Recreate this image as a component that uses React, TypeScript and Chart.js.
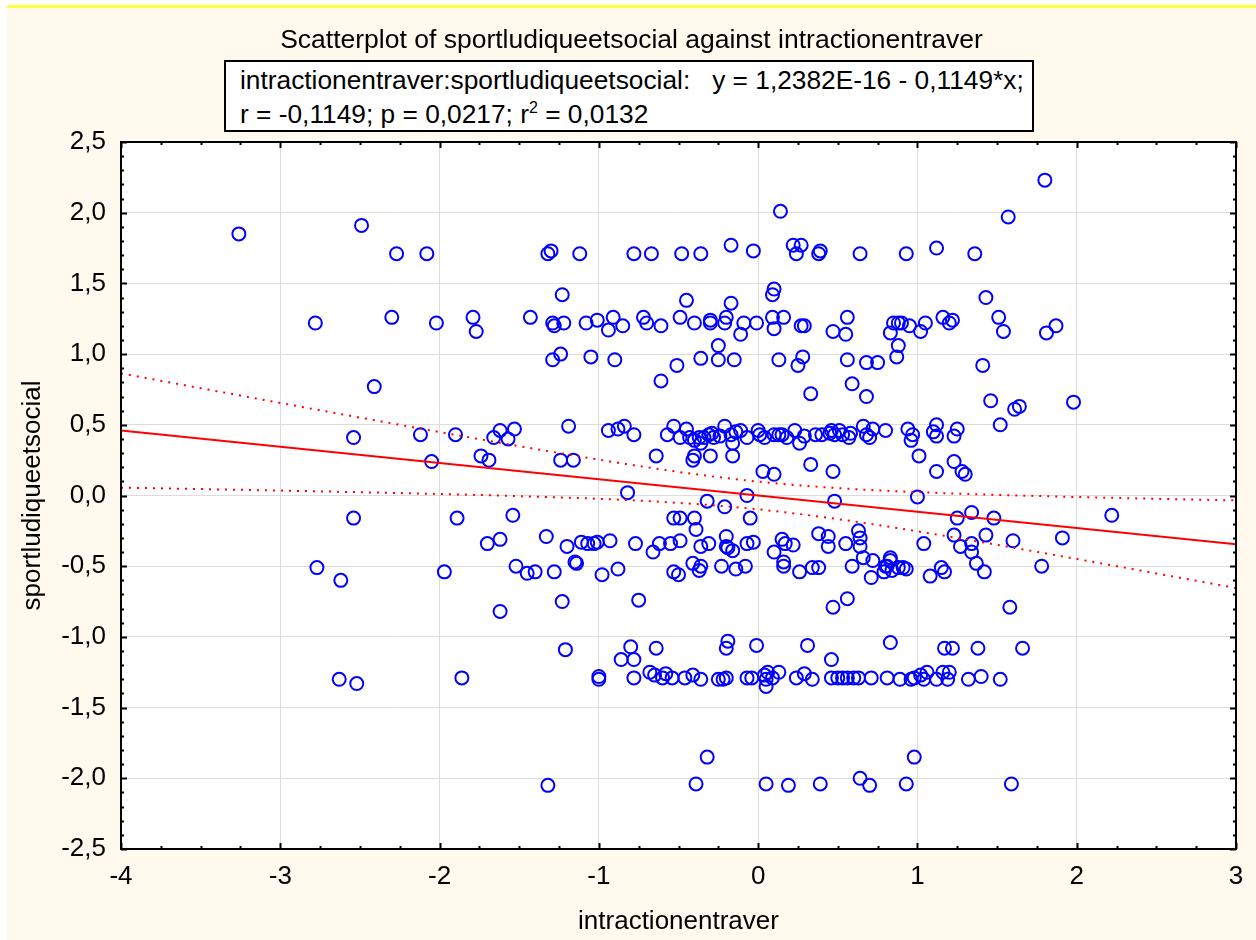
import React, { useEffect, useRef } from "react";
import { Chart, registerables } from "chart.js";

Chart.register(...registerables);

// ---------- data ----------
const xValues = [
  1.80, 0.14, 1.57, -3.26, -2.49,
  -2.27, -2.08, -1.32, -1.30, -1.12, -0.78, -0.67, -0.48, -0.36, -0.17, -0.03, 0.22, 0.24, 0.27, 0.38, 0.39, 0.64, 0.93, 1.12, 1.36,
  0.09, 0.10, -1.23, -0.45, -0.17, 1.43,
  -2.78, -2.30, -2.02, -1.79, -1.77, -1.43, -1.29, -1.28, -1.22, -1.08,
  -1.01, -0.94, -0.91, -0.85, -0.72, -0.70, -0.61, -0.49, -0.40, -0.30,
  -0.30, -0.20, -0.21, -0.11, -0.09, -0.01, 0.09, 0.10, 0.16, 0.27,
  0.29, 0.47, 0.55, 0.56, 0.83, 0.85, 0.88, 0.90, 0.95, 1.02,
  1.05, 1.16, 1.20, 1.22, 1.51, 1.54, 1.81, 1.87, 0.88,
  -1.29, -1.24, -1.05, -0.90, -0.51, -0.36, -0.25, -0.25, -0.15, 0.13, 0.25, 0.28, 0.56, 0.68, 0.75, 0.87, 1.41,
  -2.41, -0.61, 0.33, 0.59, 0.68, 1.46, 1.61, 1.64, 1.98,
  -2.54, -2.12, -1.90, -1.66, -1.62, -1.57, -1.53, -1.19, -0.94, -0.88,
  -0.84, -0.78, -0.57, -0.53, -0.49, -0.45, -0.43, -0.40, -0.37, -0.36,
  -0.34, -0.31, -0.29, -0.28, -0.24, -0.21, -0.17, -0.16, -0.14, -0.11,
  -0.07, 0.00, 0.01, 0.04, 0.10, 0.13, 0.15, 0.18, 0.23, 0.26,
  0.29, 0.36, 0.40, 0.45, 0.46, 0.48, 0.51, 0.53, 0.57, 0.58,
  0.66, 0.68, 0.70, 0.72, 0.80, 0.94, 0.96, 0.97, 1.10, 1.12,
  1.12, 1.23, 1.25, 1.52,
  -2.05, -1.74, -1.69, -1.24, -1.16, -0.64, -0.41, -0.40, -0.30, -0.16, 0.03, 0.10, 0.33, 0.47, 1.01, 1.12, 1.23, 1.28, 1.30,
  -0.82, -0.32, -0.21, -0.07, 0.48, 1.00, 2.22,
  -2.54, -1.89, -1.54, -0.53, -0.49, -0.40, -0.39, -0.05, 1.25, 1.34, 1.48,
  -1.70, -1.62, -1.33, -1.20, -1.11, -1.07, -1.03, -1.01, -0.93, -0.77,
  -0.66, -0.62, -0.55, -0.49, -0.36, -0.31, -0.20, -0.20, -0.19, -0.16,
  -0.07, -0.03, 0.10, 0.15, 0.17, 0.22, 0.38, 0.44, 0.44, 0.55,
  0.63, 0.64, 0.64, 0.66, 0.72, 0.83, 1.04, 1.23, 1.27, 1.34,
  1.34, 1.37, 1.42, 1.43, 1.60, 1.91,
  -2.77, -2.62, -1.97, -1.52, -1.45, -1.40, -1.28, -1.15, -1.14, -0.98,
  -0.88, -0.53, -0.50, -0.41, -0.36, -0.37, -0.23, -0.14, -0.08, 0.16,
  0.16, 0.26, 0.34, 0.38, 0.59, 0.71, 0.79, 0.81, 0.84, 0.88,
  0.83, 0.80, 0.91, 0.93, 1.08, 1.15, 1.17, 1.78,
  -1.62, -1.23, -0.75, 0.47, 0.56, 1.58,
  -1.21, -0.80, -0.64, -0.19, -0.20, -0.01, 0.31, 0.83, 1.17, 1.22, 1.38, 1.66, -0.86, -0.78, 0.46,
  -2.63, -2.52, -1.86, -1.00, -1.00, -0.78, -0.68, -0.65, -0.60, -0.58,
  -0.54, -0.46, -0.41, -0.36, -0.25, -0.22, -0.20, -0.07, -0.04, 0.04,
  0.05, 0.05, 0.06, 0.09, 0.13, 0.24, 0.29, 0.34, 0.46, 0.50,
  0.53, 0.56, 0.60, 0.63, 0.71, 0.81, 0.89, 0.96, 0.98, 1.02,
  1.04, 1.06, 1.12, 1.16, 1.19, 1.20, 1.32, 1.40, 1.52,
  -1.32, -0.39, -0.32, 0.05, 0.19, 0.39, 0.64, 0.70, 0.93, 0.98, 1.59,
];

const yValues = [
  2.23, 2.01, 1.97, 1.85, 1.91,
  1.71, 1.71, 1.71, 1.73, 1.71, 1.71, 1.71, 1.71, 1.71, 1.77, 1.73, 1.77, 1.71, 1.77, 1.71, 1.73, 1.71, 1.71, 1.75, 1.71,
  1.42, 1.46, 1.42, 1.38, 1.36, 1.40,
  1.22, 1.26, 1.22, 1.26, 1.16, 1.26, 1.22, 1.20, 1.22, 1.22,
  1.24, 1.17, 1.26, 1.20, 1.26, 1.22, 1.20, 1.26, 1.22, 1.24,
  1.22, 1.26, 1.22, 1.14, 1.22, 1.22, 1.26, 1.18, 1.26, 1.20,
  1.20, 1.16, 1.14, 1.26, 1.15, 1.22, 1.22, 1.22, 1.20, 1.16,
  1.22, 1.26, 1.22, 1.24, 1.26, 1.16, 1.15, 1.20, 1.06,
  0.96, 1.00, 0.98, 0.96, 0.92, 0.97, 0.96, 1.06, 0.96, 0.96, 0.92, 0.98, 0.96, 0.94, 0.94, 0.98, 0.92,
  0.77, 0.81, 0.72, 0.79, 0.70, 0.67, 0.61, 0.63, 0.66,
  0.41, 0.43, 0.43, 0.41, 0.46, 0.40, 0.47, 0.49, 0.46, 0.47,
  0.49, 0.43, 0.43, 0.49, 0.41, 0.47, 0.41, 0.39, 0.41, 0.37,
  0.41, 0.43, 0.44, 0.41, 0.42, 0.49, 0.43, 0.37, 0.45, 0.46,
  0.41, 0.46, 0.43, 0.41, 0.43, 0.43, 0.43, 0.41, 0.46, 0.37,
  0.42, 0.43, 0.43, 0.44, 0.46, 0.43, 0.46, 0.43, 0.41, 0.44,
  0.49, 0.43, 0.41, 0.47, 0.46, 0.47, 0.39, 0.43, 0.45, 0.50,
  0.42, 0.42, 0.47, 0.50,
  0.24, 0.28, 0.25, 0.25, 0.25, 0.28, 0.25, 0.28, 0.28, 0.28, 0.17, 0.15, 0.22, 0.17, 0.28, 0.17, 0.24, 0.17, 0.15,
  0.02, -0.04, -0.08, 0.00, -0.04, -0.01, -0.14,
  -0.16, -0.16, -0.14, -0.16, -0.16, -0.16, -0.24, -0.16, -0.16, -0.12, -0.16,
  -0.34, -0.31, -0.29, -0.36, -0.33, -0.34, -0.34, -0.33, -0.32, -0.34,
  -0.40, -0.34, -0.34, -0.32, -0.36, -0.34, -0.29, -0.36, -0.37, -0.39,
  -0.34, -0.33, -0.40, -0.31, -0.34, -0.35, -0.27, -0.29, -0.36, -0.34,
  -0.25, -0.30, -0.36, -0.44, -0.46, -0.44, -0.34, -0.28, -0.36, -0.34,
  -0.40, -0.48, -0.54, -0.28, -0.32, -0.30,
  -0.51, -0.60, -0.54, -0.50, -0.55, -0.54, -0.54, -0.47, -0.48, -0.56,
  -0.52, -0.54, -0.56, -0.48, -0.50, -0.53, -0.50, -0.52, -0.50, -0.47,
  -0.50, -0.54, -0.51, -0.51, -0.50, -0.58, -0.54, -0.50, -0.53, -0.51,
  -0.46, -0.50, -0.51, -0.52, -0.57, -0.51, -0.54, -0.50,
  -0.82, -0.75, -0.74, -0.79, -0.73, -0.79,
  -1.09, -1.07, -1.08, -1.03, -1.08, -1.06, -1.06, -1.04, -1.08, -1.08, -1.08, -1.08, -1.16, -1.16, -1.16,
  -1.30, -1.33, -1.29, -1.28, -1.30, -1.29, -1.25, -1.27, -1.29, -1.26,
  -1.29, -1.29, -1.27, -1.30, -1.30, -1.30, -1.29, -1.29, -1.29, -1.27,
  -1.30, -1.35, -1.25, -1.29, -1.25, -1.29, -1.26, -1.30, -1.29, -1.29,
  -1.29, -1.29, -1.29, -1.29, -1.29, -1.29, -1.30, -1.30, -1.29, -1.27,
  -1.30, -1.25, -1.30, -1.25, -1.30, -1.25, -1.30, -1.28, -1.30,
  -2.05, -2.04, -1.85, -2.04, -2.05, -2.04, -2.00, -2.05, -2.04, -1.85, -2.04,
];

const xTickValues = [-4, -3, -2, -1, 0, 1, 2, 3];
const yTickValues = [-2.5, -2.0, -1.5, -1.0, -0.5, 0.0, 0.5, 1.0, 1.5, 2.0, 2.5];

// regression statistics shown in the reference
const interceptValue = 1.2382e-16;
const slopeValue = -0.1149;
const rValue = -0.1149;
const nObs = 399;
const tCrit = 1.966;

const titleText = "Scatterplot of sportludiqueetsocial against intractionentraver";
const eqLine1 = "intractionentraver:sportludiqueetsocial:   y = 1,2382E-16 - 0,1149*x;";
const xTitle = "intractionentraver";
const yTitle = "sportludiqueetsocial";

const FONT = "Arial, 'Liberation Sans', sans-serif";

function fmtY(v: number) {
  return v.toFixed(1).replace(".", ",");
}

export default function App() {
  const canvasRef = useRef<HTMLCanvasElement | null>(null);

  useEffect(() => {
    const canvas = canvasRef.current;
    if (!canvas) return;

    const xMin = xTickValues[0];
    const xMax = xTickValues[xTickValues.length - 1];
    const yMin = yTickValues[0];
    const yMax = yTickValues[yTickValues.length - 1];

    const points = xValues.map((x, i) => ({ x, y: yValues[i] }));
    const fit = [
      { x: xMin, y: interceptValue + slopeValue * xMin },
      { x: xMax, y: interceptValue + slopeValue * xMax },
    ];
    const sRes = Math.sqrt(((nObs - 1) * (1 - rValue * rValue)) / (nObs - 2));
    const upper: { x: number; y: number }[] = [];
    const lower: { x: number; y: number }[] = [];
    const steps = 70;
    for (let k = 0; k <= steps; k++) {
      const x = xMin + ((xMax - xMin) * k) / steps;
      const yhat = interceptValue + slopeValue * x;
      const hw = tCrit * sRes * Math.sqrt(1 / nObs + (x * x) / (nObs - 1));
      upper.push({ x, y: yhat + hw });
      lower.push({ x, y: yhat - hw });
    }

    const framePlugin = {
      id: "framePlugin",
      beforeDraw(chart: any) {
        const { ctx, chartArea: a } = chart;
        ctx.save();
        ctx.fillStyle = "#ffffff";
        ctx.fillRect(a.left, a.top, a.right - a.left, a.bottom - a.top);
        ctx.restore();
      },
      afterDraw(chart: any) {
        const { ctx, chartArea: a, scales } = chart;
        const xs = scales.x;
        const ys = scales.y;
        ctx.save();
        ctx.strokeStyle = "#000000";
        ctx.lineWidth = 2;
        ctx.beginPath();
        for (let v = xMin; v <= xMax + 1e-9; v += 0.25) {
          const px = Math.round(xs.getPixelForValue(v)) + 0.5;
          const major = Math.abs(v - Math.round(v)) < 1e-9;
          const len = major ? 6 : 3;
          ctx.moveTo(px, a.bottom);
          ctx.lineTo(px, a.bottom - len);
          ctx.moveTo(px, a.top);
          ctx.lineTo(px, a.top + len);
        }
        for (let k = 0; k <= Math.round((yMax - yMin) / 0.1); k++) {
          const v = yMin + k * 0.1;
          const py = Math.round(ys.getPixelForValue(v)) + 0.5;
          const major = k % 5 === 0;
          const len = major ? 6 : 3;
          ctx.moveTo(a.left, py);
          ctx.lineTo(a.left + len, py);
          ctx.moveTo(a.right, py);
          ctx.lineTo(a.right - len, py);
        }
        ctx.stroke();
        ctx.lineWidth = 2;
        ctx.strokeRect(a.left, a.top, a.right - a.left, a.bottom - a.top);
        ctx.restore();
      },
    };

    const chart = new Chart(canvas, {
      type: "scatter",
      data: {
        datasets: [
          {
            label: "fit",
            type: "line",
            data: fit,
            borderColor: "#ff0000",
            borderWidth: 2,
            pointRadius: 0,
            fill: false,
            order: 1,
          } as any,
          {
            label: "upper",
            type: "line",
            data: upper,
            borderColor: "#ff0000",
            borderWidth: 2,
            borderDash: [2, 6],
            pointRadius: 0,
            fill: false,
            order: 1,
          } as any,
          {
            label: "lower",
            type: "line",
            data: lower,
            borderColor: "#ff0000",
            borderWidth: 2,
            borderDash: [2, 6],
            pointRadius: 0,
            fill: false,
            order: 1,
          } as any,
          {
            label: "points",
            data: points,
            pointStyle: "circle",
            pointRadius: 6.5,
            pointBorderWidth: 2,
            borderColor: "#0000ff",
            backgroundColor: "rgba(0,0,0,0)",
            order: 2,
          },
        ],
      },
      options: {
        animation: false,
        responsive: false,
        events: [],
        layout: { padding: { left: 0, right: 20, top: 142, bottom: 0 } },
        plugins: {
          legend: { display: false },
          title: { display: false },
          tooltip: { enabled: false },
        },
        scales: {
          x: {
            type: "linear",
            min: xMin,
            max: xMax,
            afterBuildTicks: (s: any) => {
              s.ticks = xTickValues.map((v) => ({ value: v }));
            },
            afterFit: (s: any) => {
              s.height = 91;
            },
            grid: { color: "#dcdcdc", lineWidth: 1, drawTicks: false },
            border: { display: false },
            ticks: {
              color: "#000000",
              font: { family: FONT, size: 26 },
              padding: 12,
              maxRotation: 0,
              callback: (v: any) => String(v),
            },
            title: {
              display: true,
              text: xTitle,
              color: "#000000",
              font: { family: FONT, size: 26 },
              padding: { top: 0, bottom: 3 },
            },
          },
          y: {
            type: "linear",
            min: yMin,
            max: yMax,
            afterBuildTicks: (s: any) => {
              s.ticks = yTickValues.map((v) => ({ value: v }));
            },
            afterFit: (s: any) => {
              s.width = 121;
            },
            grid: { color: "#dcdcdc", lineWidth: 1, drawTicks: false },
            border: { display: false },
            ticks: {
              color: "#000000",
              font: { family: FONT, size: 26 },
              padding: 15,
              callback: (v: any) => fmtY(Number(v)),
            },
            title: {
              display: true,
              text: yTitle,
              color: "#000000",
              font: { family: FONT, size: 26 },
              padding: { top: 17, bottom: 0 },
            },
          },
        },
      },
      plugins: [framePlugin],
    } as any);

    return () => {
      chart.destroy();
    };
  }, []);

  return (
    <div
      style={{
        position: "absolute",
        left: 0,
        top: 0,
        width: 1256,
        height: 940,
        background: "#ffffff",
        overflow: "hidden",
      }}
    >
      <div style={{ position: "absolute", left: 7, top: 5, width: 1249, height: 3, background: "#ffff40" }} />
      <div style={{ position: "absolute", left: 7, top: 8, width: 1249, height: 932, background: "#fff9ee" }} />
      <canvas
        ref={canvasRef}
        width={1256}
        height={940}
        style={{ position: "absolute", left: 0, top: 0, width: 1256, height: 940 }}
      />
      <div
        style={{
          position: "absolute",
          left: 7,
          top: 24,
          width: 1249,
          textAlign: "center",
          fontFamily: FONT,
          fontSize: 26.5,
          lineHeight: "30px",
          color: "#000",
          whiteSpace: "nowrap",
        }}
      >
        {titleText}
      </div>
      <div
        style={{
          position: "absolute",
          left: 224,
          top: 60,
          width: 810,
          height: 72,
          boxSizing: "border-box",
          border: "2px solid #000",
          background: "#ffffff",
          fontFamily: FONT,
          fontSize: 26.3,
          lineHeight: "34px",
          color: "#000",
          paddingLeft: 14,
          paddingTop: 1,
          whiteSpace: "pre",
        }}
      >
        <div>{eqLine1}</div>
        <div>
          r = -0,1149; p = 0,0217; r<sup style={{ fontSize: 16, lineHeight: 0, verticalAlign: "super" }}>2</sup> = 0,0132
        </div>
      </div>
    </div>
  );
}
